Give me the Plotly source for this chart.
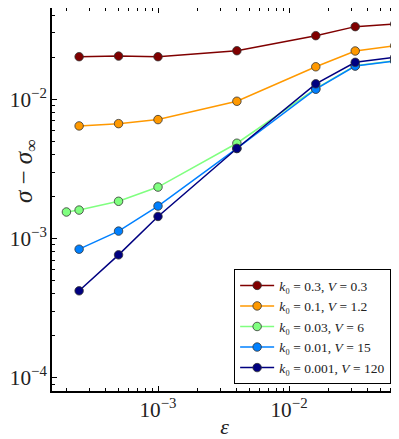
import plotly.graph_objects as go

# epsilon values (x)
eps = [2.5e-4, 5e-4, 1e-3, 4e-3, 1.6e-2, 3.2e-2, 6.4e-2]
eps_green = [2.0e-4, 2.5e-4, 5e-4, 1e-3, 4e-3, 1.6e-2, 3.2e-2, 6.4e-2]

# sigma - sigma_inf (y)
s_k03 = [0.0202, 0.0204, 0.0202, 0.0223, 0.0286, 0.0332, 0.0347]
s_k01 = [0.00643, 0.00668, 0.00714, 0.00967, 0.0171, 0.0222, 0.0242]
s_k003 = [0.00155, 0.00160, 0.00185, 0.00234, 0.00483, 0.0119, 0.0174, 0.0189]
s_k001 = [0.000838, 0.00113, 0.00171, 0.00443, 0.0118, 0.0173, 0.0188]
s_k0001 = [0.000421, 0.000763, 0.00144, 0.00443, 0.0129, 0.0184, 0.0200]

names = [
    "<i>k</i>₀ = 0.3, <i>V</i> = 0.3",
    "<i>k</i>₀ = 0.1, <i>V</i> = 1.2",
    "<i>k</i>₀ = 0.03, <i>V</i> = 6",
    "<i>k</i>₀ = 0.01, <i>V</i> = 15",
    "<i>k</i>₀ = 0.001, <i>V</i> = 120",
]
colors = ["#800000", "#ff9900", "#80ff80", "#0080ff", "#000080"]

series = [(eps, s_k03), (eps, s_k01), (eps_green, s_k003), (eps, s_k001), (eps, s_k0001)]

fig = go.Figure()
for (xs, ys), name, c in zip(series, names, colors):
    fig.add_trace(go.Scatter(
        x=xs, y=ys, mode="lines+markers", name=name, cliponaxis=False,
        line=dict(color=c, width=1.5),
        marker=dict(color=c, size=8.5, line=dict(color="#333333", width=0.8)),
    ))

font = "Liberation Serif"
axis_common = dict(
    type="log", showgrid=False, zeroline=False, automargin=False,
    showline=True, linecolor="black", linewidth=1.5, mirror="ticks",
    ticks="inside", ticklen=5, tickcolor="black", dtick=1,
    exponentformat="power",
    tickfont=dict(family=font, size=17, color="#222"),
    minor=dict(ticks="inside", ticklen=3, tickcolor="black", dtick="D1"),
)
# page body has an 8px margin, so the figure is 391x431 and ranges are set so
# decades land where the reference has them
fig.update_xaxes(range=[-3.809, -1.176], title=dict(text="<i>ε</i>", standoff=19,
                 font=dict(family=font, size=22, color="#222")), **axis_common)
fig.update_yaxes(range=[-4.095, -1.345], **axis_common)

fig.add_annotation(text="<i>σ</i> − <i>σ</i><sub>∞</sub>", textangle=-90,
                   xref="paper", yref="paper", x=-0.128, y=0.575,
                   xanchor="left", yanchor="middle", showarrow=False,
                   font=dict(family=font, size=25, color="#222"))

fig.update_layout(
    width=391, height=431,
    margin=dict(l=44, r=2, t=0, b=48),
    plot_bgcolor="white", paper_bgcolor="white",
    legend=dict(x=0.983, y=0.018, xanchor="right", yanchor="bottom",
                bordercolor="black", borderwidth=1, bgcolor="white",
                font=dict(family=font, size=13.5, color="#222"),
                tracegroupgap=0, itemwidth=34),
)

fig.write_html("out.html")
